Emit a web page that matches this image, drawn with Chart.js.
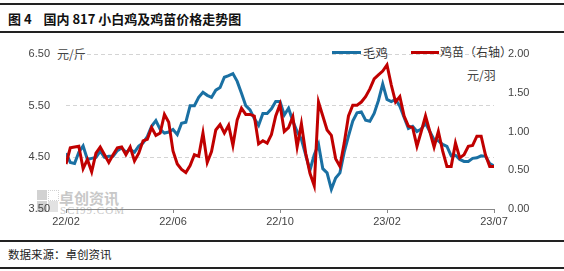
<!DOCTYPE html>
<html>
<head>
<meta charset="utf-8">
<script src="https://cdn.jsdelivr.net/npm/chart.js@4.4.0/dist/chart.umd.min.js"></script>
<style>
body{margin:0;background:#fff;font-family:"Noto Sans CJK SC",sans-serif;}
#wrap{position:relative;width:564px;height:271px;overflow:hidden;background:#fff;}
#chart{position:absolute;left:0;top:0;z-index:2;}
.rule{position:absolute;left:0;width:564px;height:2px;background:#222;}
.txt{position:absolute;white-space:nowrap;color:#333;}
#title{left:8px;top:9px;font-size:13px;font-weight:bold;color:#111;}
#foot{left:8px;top:246px;font-size:11.5px;color:#222;}
.unit{font-size:12px;color:#444;}
.leg{position:absolute;height:3px;}
#wm{position:absolute;left:37px;top:187px;z-index:1;color:#c8c8c8;}
#wm .sq{position:absolute;background:#d2d2d2;}
</style>
</head>
<body>
<div id="wrap">
  <div class="rule" style="top:3px"></div>
  <div class="rule" style="top:31px"></div>
  <div class="txt" id="title">图 4&nbsp;&nbsp;&nbsp;&nbsp;国内 817 小白鸡及鸡苗价格走势图</div>
  <div class="txt unit" style="left:57px;top:45px">元/斤</div>
  <div class="txt unit" style="left:467px;top:66px">元/羽</div>
  <div class="leg" id="leg0" style="left:332px;top:51px;width:29px"></div>
  <div class="txt" id="legt0" style="left:363px;top:43px;font-size:12.5px"></div>
  <div class="leg" id="leg1" style="left:411px;top:51px;width:28px"></div>
  <div class="txt" id="legt1" style="left:440px;top:43px;font-size:12px"></div>
  <div id="wm">
    <div class="sq" style="left:0;top:3px;width:10px;height:10px"></div>
    <div class="sq" style="left:11px;top:3px;width:9px;height:9px;background:none;border:1px dotted #d2d2d2"></div>
    <div class="sq" style="left:0;top:14px;width:10px;height:11px"></div>
    <div class="sq" style="left:11px;top:14px;width:10px;height:11px;background:#e2e2e2"></div>
    <div style="position:absolute;left:22px;top:0;font-size:15px;font-weight:bold;white-space:nowrap">卓创资讯</div>
    <div style="position:absolute;left:23px;top:17px;font-size:11px;font-family:'Liberation Serif',serif;letter-spacing:1px;white-space:nowrap">SCI99.COM</div>
  </div>
  <div class="rule" style="top:240px;height:1.5px"></div>
  <div class="txt" id="foot">数据来源：卓创资讯</div>
  <div class="rule" style="top:267px;height:1.5px"></div>
  <canvas id="chart" width="564" height="271"></canvas>
</div>
<script>
// x axis: evenly spaced observations, labelled every 25 points
var tickLabels = ['22/02', '22/06', '22/10', '23/02', '23/07'];
var seriesNames = ['毛鸡', '鸡苗（右轴）'];
var seriesColors = ['#1a70a3', '#c00000'];

// 毛鸡 (元/斤, left axis)
var maoji = [4.58,4.40,4.38,4.60,4.72,4.46,4.48,4.50,4.62,4.50,
  4.52,4.52,4.63,4.68,4.60,4.65,4.60,4.72,4.78,4.90,
  5.10,5.21,5.04,4.97,4.99,5.04,4.94,5.16,5.18,5.50,
  5.50,5.66,5.76,5.70,5.66,5.80,5.85,6.05,6.08,6.12,
  5.97,5.74,5.50,5.42,5.25,5.12,5.35,5.35,5.44,5.58,
  5.58,5.32,5.45,5.20,5.00,4.85,4.55,4.25,4.55,4.75,
  4.28,4.20,3.88,4.10,4.20,4.60,4.91,5.20,5.36,5.38,
  5.22,5.20,5.35,5.60,5.92,5.62,5.58,5.62,5.49,5.27,
  5.06,5.10,5.00,5.05,5.16,5.00,4.84,4.82,4.75,4.71,
  4.53,4.54,4.46,4.42,4.42,4.48,4.49,4.53,4.52,4.38,
  4.33];

// 鸡苗 (元/羽, right axis)
var jimiao = [0.58,0.79,0.80,0.81,0.52,0.64,0.48,0.72,0.80,0.70,
  0.60,0.70,0.79,0.80,0.70,0.80,0.62,0.72,0.88,0.90,
  1.05,0.95,0.98,1.22,1.12,0.75,0.58,0.51,0.47,0.56,
  0.70,0.68,0.98,0.60,0.74,1.02,1.09,0.98,1.08,0.82,
  1.15,1.30,1.22,1.22,1.20,0.84,0.88,0.85,0.96,1.20,
  1.35,1.00,1.05,1.19,0.80,1.10,0.72,0.46,0.30,1.38,
  1.20,1.02,0.95,0.65,0.55,0.85,1.20,1.34,1.34,1.38,
  1.45,1.55,1.68,1.73,1.78,1.86,1.60,1.38,1.45,1.20,
  1.07,1.05,0.81,1.00,1.20,1.00,0.80,1.00,0.75,0.55,
  0.55,0.85,0.66,0.70,0.81,0.82,0.94,0.94,0.70,0.55,
  0.55];

var step = 25;

function toPoints(arr){
  return arr.map(function(v, i){ return {x: i, y: v}; });
}

document.getElementById('leg0').style.background = seriesColors[0];
document.getElementById('leg1').style.background = seriesColors[1];
document.getElementById('legt0').textContent = seriesNames[0];
document.getElementById('legt1').textContent = seriesNames[1];

var tickFont = {family: 'Liberation Sans', size: 11};

new Chart(document.getElementById('chart'), {
  type: 'line',
  data: {
    datasets: [
      {label: seriesNames[0], data: toPoints(maoji), yAxisID: 'y',
       borderColor: seriesColors[0], borderWidth: 3, pointRadius: 0, order: 1},
      {label: seriesNames[1], data: toPoints(jimiao), yAxisID: 'y1',
       borderColor: seriesColors[1], borderWidth: 3, pointRadius: 0, order: 0}
    ]
  },
  options: {
    responsive: false,
    animation: false,
    devicePixelRatio: 1,
    layout: {padding: {top: 54, left: 0, right: 0, bottom: 0}},
    plugins: {legend: {display: false}, tooltip: {enabled: false}},
    scales: {
      x: {
        type: 'linear', min: 0, max: (tickLabels.length - 1) * step,
        afterFit: function(s){ s.height = 62; },
        grid: {drawOnChartArea: false, drawTicks: true, tickLength: 4, color: '#888'},
        border: {color: '#888', width: 1},
        ticks: {stepSize: step, autoSkip: false, maxRotation: 0, padding: 2,
          color: '#444', font: tickFont,
          callback: function(v){ return tickLabels[v / step]; }}
      },
      y: {
        position: 'left', min: 3.5, max: 6.5,
        afterFit: function(s){ s.width = 66; },
        grid: {color: '#d4d4d4', drawTicks: false},
        border: {display: false, dash: [4, 3]},
        ticks: {stepSize: 1, padding: 16, color: '#444', font: tickFont,
          callback: function(v){ return v.toFixed(2); }}
      },
      y1: {
        position: 'right', min: 0, max: 2,
        afterFit: function(s){ s.width = 70; },
        grid: {drawOnChartArea: false, drawTicks: false},
        border: {display: false},
        ticks: {stepSize: 0.5, padding: 14, color: '#444', font: tickFont,
          callback: function(v){ return v.toFixed(2); }}
      }
    }
  }
});
</script>
</body>
</html>
